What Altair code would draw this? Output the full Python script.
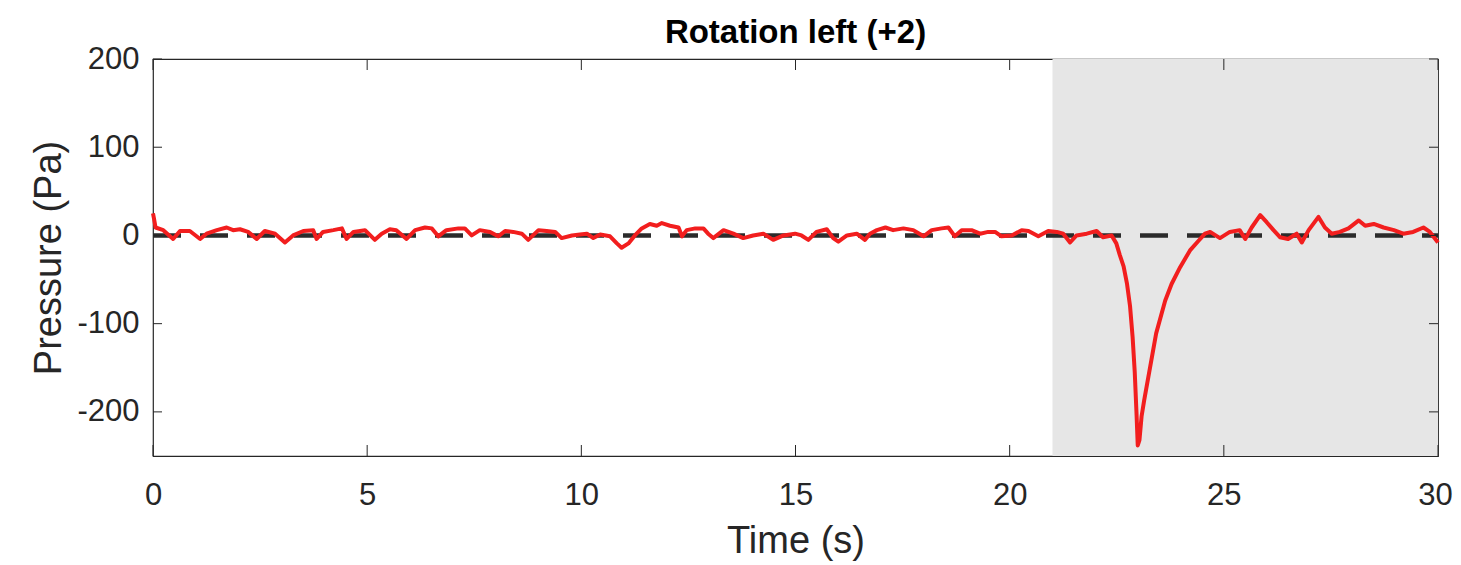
import altair as alt
import pandas as pd

# ---- data ----
time_s = [0.00, 0.02, 0.06, 0.24, 0.47, 0.63, 0.86, 1.10, 1.25, 1.49, 1.72, 1.87, 2.03, 2.22, 2.42,
          2.61, 2.85, 3.08, 3.27, 3.51, 3.74, 3.82, 3.97, 4.21, 4.41, 4.52, 4.68, 4.95, 5.18, 5.34,
          5.53, 5.68, 5.92, 6.12, 6.35, 6.51, 6.66, 6.85, 7.13, 7.28, 7.44, 7.63, 7.87, 8.06, 8.22,
          8.41, 8.61, 8.76, 9.00, 9.19, 9.39, 9.54, 9.78, 9.97, 10.13, 10.28, 10.44, 10.67, 10.83,
          10.94, 11.10, 11.25, 11.41, 11.60, 11.76, 11.88, 12.07, 12.27, 12.35, 12.46, 12.66, 12.85,
          12.96, 13.08, 13.32, 13.55, 13.78, 14.01, 14.25, 14.48, 14.72, 14.99, 15.14, 15.30, 15.49,
          15.73, 15.88, 16.00, 16.20, 16.43, 16.62, 16.74, 16.90, 17.10, 17.28, 17.52, 17.75, 17.99,
          18.18, 18.41, 18.57, 18.72, 18.88, 19.11, 19.31, 19.50, 19.66, 19.81, 20.05, 20.28, 20.44,
          20.67, 20.90, 21.10, 21.25, 21.41, 21.56, 21.80, 22.03, 22.18, 22.38, 22.49, 22.57, 22.66,
          22.74, 22.81, 22.87, 22.92, 22.96, 22.99, 23.03, 23.08, 23.14, 23.28, 23.42, 23.63, 23.78,
          23.98, 24.21, 24.41, 24.56, 24.68, 24.91, 25.14, 25.37, 25.50, 25.65, 25.85, 26.00, 26.16,
          26.31, 26.50, 26.70, 26.82, 26.98, 27.21, 27.36, 27.52, 27.71, 27.91, 28.15, 28.30, 28.50,
          28.73, 28.97, 29.19, 29.42, 29.66, 29.81, 30.00]
pressure_pa = [25, 20, 9, 6, -4, 5, 5, -4, 2, 6, 9, 6, 7, 4, -4,
               5, 2, -8, 0, 5, 6, -4, 4, 6, 8, -4, 4, 6, -5, 2,
               7, 6, -4, 6, 9, 8, -1, 6, 8, 8, 0, 6, 4, -1, 5,
               4, 2, -5, 6, 5, 4, -3, 0, 1, 2, -3, 1, -1, -9,
               -14, -9, 0, 8, 13, 11, 14, 11, 9, -1, 6, 8, 8,
               2, -3, 6, 2, -3, 0, 2, -5, 0, 2, 0, -5, 4,
               7, -3, -7, 0, 2, -5, 2, 6, 9, 6, 8, 6, -1,
               6, 8, 9, -1, 6, 6, 2, 4, 4, -1, 0, 6, 5,
               -1, 5, 4, 2, -8, 0, 2, 5, -2, 0, -9, -22, -35,
               -55, -80, -115, -155, -200, -238, -232, -205, -187, -149, -111, -74, -55,
               -36, -17, -6, 2, 4, -3, 4, 6, -4, 9, 23, 15, 6,
               -2, -4, 2, -8, 6, 21, 9, 2, 4, 8, 17, 11, 13,
               9, 6, 2, 4, 9, 4, -8]

shade_start = [21]
shade_end = [30]
zero_level = [0]
x_ticks = [0, 5, 10, 15, 20, 25, 30]
y_ticks = [-200, -100, 0, 100, 200]
chart_title = "Rotation left (+2)"

W, H = 1285, 397
AXIS_COLOR = "#262626"
FONT = "Liberation Sans"

trace = pd.DataFrame({"t": time_s, "p": pressure_pa})
shade = pd.DataFrame({"t0": shade_start, "t1": shade_end})
zero = pd.DataFrame({"t0": [0], "t1": [30], "p": zero_level})
xt = pd.DataFrame({"t": x_ticks})
yt = pd.DataFrame({"p": y_ticks})
ttl = pd.DataFrame({"label": [chart_title]})

xs = alt.Scale(domain=[0, 30], nice=False, zero=False)
ys = alt.Scale(domain=[-250, 200], nice=False, zero=False)

x_axis = alt.Axis(values=x_ticks, ticks=False, domain=False, grid=False, labelFlush=False,
                  labelFont=FONT, labelFontSize=31, labelColor=AXIS_COLOR, labelPadding=24,
                  labelExpr="'' + datum.value",
                  labelOffset={"condition": {"test": "datum.value == 30", "value": -3}, "value": 0},
                  title="Time (s)", titleFont=FONT, titleFontSize=38, titleFontWeight="normal",
                  titleColor=AXIS_COLOR, titleBaseline="alphabetic", titleY=96)
y_axis = alt.Axis(values=y_ticks, ticks=False, domain=False, grid=False, labelFlush=False,
                  labelFont=FONT, labelFontSize=31, labelColor=AXIS_COLOR, labelPadding=14,
                  labelExpr="'' + datum.value",
                  title="Pressure (Pa)", titleFont=FONT, titleFontSize=38, titleFontWeight="normal",
                  titleColor=AXIS_COLOR, titleAngle=270, titleBaseline="alphabetic",
                  titleAlign="center", titleX=-93, titleY=H / 2)


def X(field):
    return alt.X(field, scale=xs, axis=x_axis)


def Y(field):
    return alt.Y(field, scale=ys, axis=y_axis)


shade_layer = alt.Chart(shade).mark_rect(color="#e6e6e6").encode(
    x=X("t0:Q"), x2="t1:Q",
    y=alt.value(0), y2=alt.value(H))

zero_layer = alt.Chart(zero).mark_rule(color="#2b2b2b", strokeWidth=4.5, strokeDash=[28, 19]).encode(
    x=X("t0:Q"), x2="t1:Q", y=Y("p:Q"))

line_layer = alt.Chart(trace).mark_line(color="#f21e1e", strokeWidth=4, strokeJoin="round").encode(
    x=X("t:Q"), y=Y("p:Q"))

tick_style = dict(color=AXIS_COLOR, strokeWidth=1)
xtick_bottom = alt.Chart(xt).mark_rule(**tick_style).encode(
    x=X("t:Q"), y=alt.value(H), y2=alt.value(H - 11))
xtick_top = alt.Chart(xt).mark_rule(**tick_style).encode(
    x=X("t:Q"), y=alt.value(0), y2=alt.value(11))
ytick_left = alt.Chart(yt).mark_rule(**tick_style).encode(
    y=Y("p:Q"), x=alt.value(0), x2=alt.value(9))
ytick_right = alt.Chart(yt).mark_rule(**tick_style).encode(
    y=Y("p:Q"), x=alt.value(W), x2=alt.value(W - 9))

title_layer = alt.Chart(ttl).mark_text(font=FONT, fontSize=33, fontWeight="bold", color="black",
                                       align="center", baseline="alphabetic").encode(
    text="label:N", x=alt.value(W / 2), y=alt.value(-16))

chart = alt.layer(shade_layer, zero_layer, line_layer, xtick_bottom, xtick_top,
                  ytick_left, ytick_right, title_layer).properties(
    width=W, height=H,
    autosize=alt.AutoSizeParams(type="none"),
    padding={"left": 145, "top": 51, "right": 15, "bottom": 105},
    background="white",
).configure_view(stroke=AXIS_COLOR, strokeWidth=1.2)

chart.save("out.html", embed_options={"renderer": "svg", "actions": False})
